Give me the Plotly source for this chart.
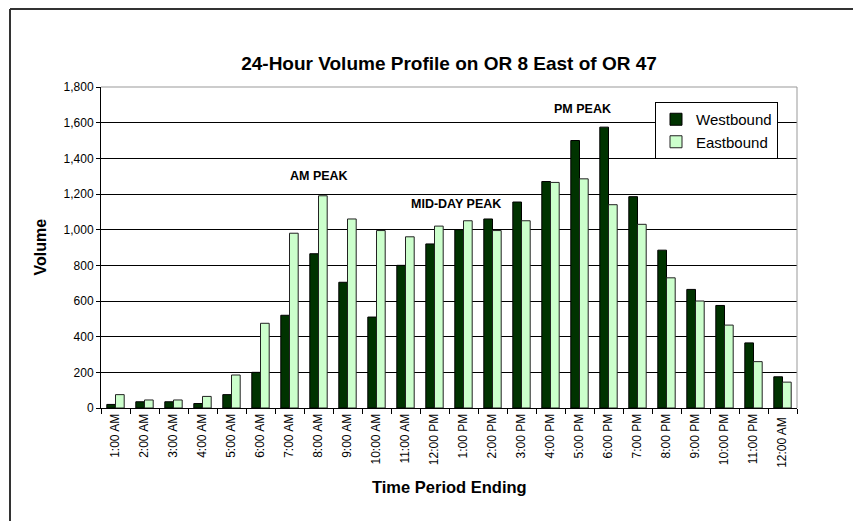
import plotly.graph_objects as go

FONT = "Arial, Liberation Sans, sans-serif"

hours = [
    "1:00 AM", "2:00 AM", "3:00 AM", "4:00 AM", "5:00 AM", "6:00 AM",
    "7:00 AM", "8:00 AM", "9:00 AM", "10:00 AM", "11:00 AM", "12:00 PM",
    "1:00 PM", "2:00 PM", "3:00 PM", "4:00 PM", "5:00 PM", "6:00 PM",
    "7:00 PM", "8:00 PM", "9:00 PM", "10:00 PM", "11:00 PM", "12:00 AM ",
]
westbound = [20, 35, 35, 25, 75, 200, 520, 865, 705, 510, 800, 920,
             1000, 1060, 1155, 1270, 1500, 1575, 1185, 885, 665, 575, 365, 175]
eastbound = [75, 45, 45, 65, 185, 475, 980, 1190, 1060, 995, 960, 1020,
             1050, 995, 1050, 1265, 1285, 1140, 1030, 730, 600, 465, 260, 145]

fig = go.Figure()
fig.add_bar(x=hours, y=westbound, name="Westbound",
            marker={"color": "#003300", "line": {"color": "black", "width": 1}})
fig.add_bar(x=hours, y=eastbound, name="Eastbound",
            marker={"color": "#ccffcc", "line": {"color": "#222222", "width": 1}})

# the page has an 8px body margin, so the plot area in window pixels is
# x 101..797, y 87..408
W, H = 861, 521
L, R, T, B = 93, 72, 79, 121


def px(x):
    return (x - 101) / 696


def py(y):
    return (408 - y) / 321


notes = [
    dict(x=7, y=1300, text="<b>AM PEAK</b>"),
    dict(x=11.75, y=1145, text="<b>MID-DAY PEAK</b>"),
    dict(x=16.1, y=1676, text="<b>PM PEAK</b>"),
]
annotations = [
    dict(**n, xref="x", yref="y", showarrow=False,
         font={"size": 12.5, "family": FONT, "color": "black"})
    for n in notes
]
annotations += [
    dict(x=px(29), y=py(247), xref="paper", yref="paper", text="<b>Volume</b>",
         textangle=-90, showarrow=False,
         font={"size": 16, "family": FONT, "color": "black"}),
    dict(x=0.5, y=py(498), xref="paper", yref="paper",
         text="<b>Time Period Ending</b>", showarrow=False,
         font={"size": 16.5, "family": FONT, "color": "black"}),
]

fig.update_layout(
    width=W,
    height=H,
    margin={"l": L, "r": R, "t": T, "b": B},
    paper_bgcolor="white",
    plot_bgcolor="white",
    font={"family": FONT, "size": 12, "color": "black"},
    title={
        "text": "<b>24-Hour Volume Profile on OR 8 East of OR 47</b>",
        "x": 0.5, "xref": "paper", "xanchor": "center",
        "y": 1 - 55.5 / H, "yanchor": "middle",
        "font": {"size": 19, "family": FONT, "color": "black"},
    },
    barmode="group",
    bargap=0.4,
    bargroupgap=0,
    showlegend=True,
    legend={
        "x": px(778), "y": py(102), "xanchor": "right", "yanchor": "top",
        "bgcolor": "white", "bordercolor": "black", "borderwidth": 1,
        "font": {"size": 15, "family": FONT},
        "itemwidth": 30,
        "tracegroupgap": 0,
    },
    xaxis={
        "tickangle": -90,
        "ticks": "outside",
        "tickson": "boundaries",
        "ticklen": 5,
        "tickcolor": "black",
        "showline": True,
        "linecolor": "black",
        "linewidth": 1,
        "showgrid": False,
        "tickfont": {"size": 12},
    },
    yaxis={
        "range": [0, 1800],
        "dtick": 200,
        "tickformat": ",",
        "ticks": "outside",
        "ticklen": 4,
        "tickcolor": "black",
        "showline": True,
        "linecolor": "black",
        "linewidth": 1,
        "showgrid": True,
        "gridcolor": "black",
        "gridwidth": 1,
        "zeroline": False,
        "tickfont": {"size": 12},
    },
    annotations=annotations,
    shapes=[
        # plot area frame, top and right edges in gray
        dict(type="line", xref="paper", yref="paper", x0=0, x1=1, y0=1, y1=1,
             line={"color": "#999999", "width": 1}),
        dict(type="line", xref="paper", yref="paper", x0=1, x1=1, y0=0, y1=1,
             line={"color": "#999999", "width": 1}),
        # outer chart border (left and top visible)
        dict(type="line", xref="paper", yref="paper", x0=px(10), x1=px(880),
             y0=py(9), y1=py(9), line={"color": "#333333", "width": 2}),
        dict(type="line", xref="paper", yref="paper", x0=px(10), x1=px(10),
             y0=py(9), y1=py(540), line={"color": "#333333", "width": 2}),
    ],
)

fig.write_html("out.html")
